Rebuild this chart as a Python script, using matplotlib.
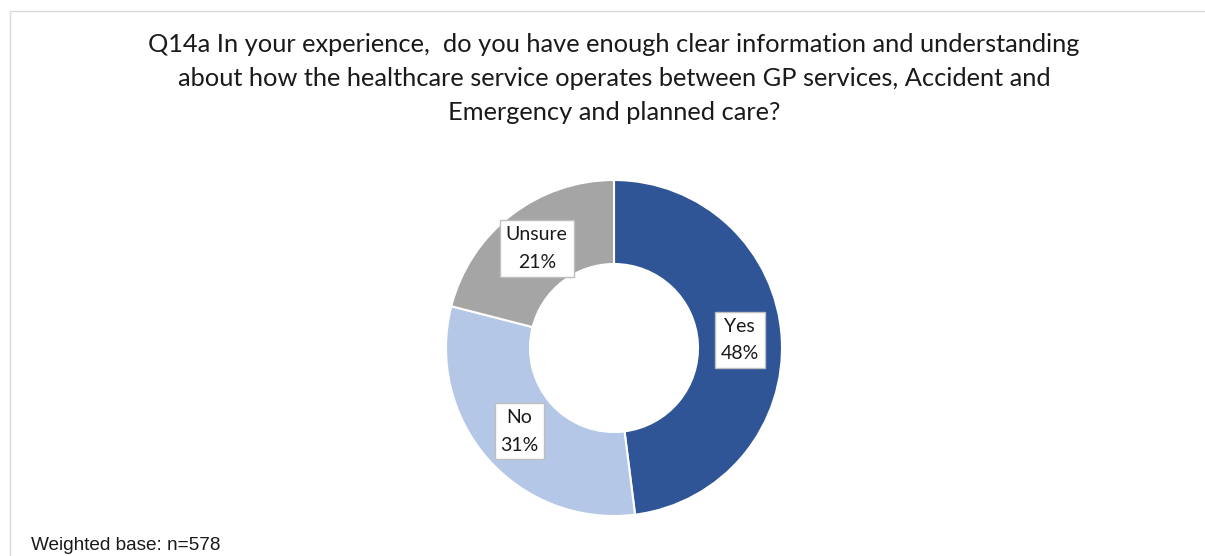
import numpy as np
import matplotlib.pyplot as plt
from matplotlib.patches import Rectangle

categories = ["Yes", "No", "Unsure"]
shares = [48, 31, 21]
colours = ["#2F5597", "#B4C7E7", "#A5A5A5"]

title = ("Q14a In your experience,  do you have enough clear information and understanding\n"
         "about how the healthcare service operates between GP services, Accident and\n"
         "Emergency and planned care?")
footer = "Weighted base: n=578"

W, H = 1205, 556
fig = plt.figure(figsize=(W / 100, H / 100), dpi=100)

# chart area outline
fig.patches.append(Rectangle((10 / W, -0.1), 1.2, (H - 11) / H + 0.1,
                             transform=fig.transFigure, fill=False,
                             edgecolor="#D9D9D9", linewidth=1))

cx, cy, r = 614, H - 348, 168
ax = fig.add_axes([(cx - r) / W, (cy - r) / H, 2 * r / W, 2 * r / H])
wedges, _ = ax.pie(shares, colors=colours, startangle=90, counterclock=False,
                   radius=1, wedgeprops=dict(width=0.5, edgecolor="white", linewidth=1.5))
ax.set_xlim(-1, 1)
ax.set_ylim(-1, 1)
ax.set_aspect("auto")
for w in wedges:
    w.set_clip_on(False)

for w, name, val in zip(wedges, categories, shares):
    mid = np.deg2rad((w.theta1 + w.theta2) / 2)
    ax.text(0.75 * np.cos(mid), 0.75 * np.sin(mid), f"{name}\n{val}%",
            ha="center", va="center", fontsize=14, family="Lato",
            color="#1a1a1a", linespacing=1.75,
            bbox=dict(boxstyle="square,pad=0.3", facecolor="white",
                      edgecolor="#BFBFBF", linewidth=1))

fig.text(614 / W, 1 - 33 / H, title, ha="center", va="top", fontsize=18.3,
         family="Lato", color="#1a1a1a", linespacing=1.58)
fig.text(31 / W, 1 - 545 / H, footer, ha="left", va="center", fontsize=13.7,
         family="Liberation Sans", color="#1a1a1a")

fig.savefig("out.png", dpi=100)
